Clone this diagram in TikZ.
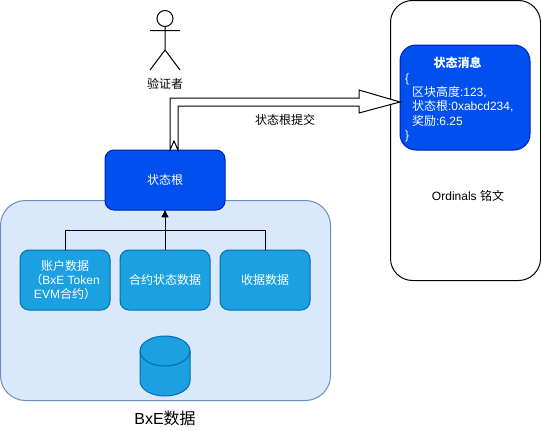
\documentclass[tikz,border=0pt]{standalone}
\usepackage{fontspec}
\setmainfont{Liberation Sans}
\newfontfamily\cjkf{Noto Sans CJK SC}
\newcommand{\zh}[1]{{\cjkf #1}}
\usetikzlibrary{arrows.meta,calc,shapes.geometric}
\definecolor{bigfill}{HTML}{DAE8FC}
\definecolor{bigline}{HTML}{6C8EBF}
\definecolor{rootfill}{HTML}{0050EF}
\definecolor{rootline}{HTML}{001DBC}
\definecolor{subfill}{HTML}{1BA1E2}
\definecolor{subline}{HTML}{006EAF}
\tikzset{
  x=1pt,y=-1pt,
  every node/.style={font=\fontsize{12}{14.4}\selectfont,inner sep=0pt,outer sep=0pt},
  every path/.style={line width=1pt},
  rootbox/.style={draw=rootline,fill=rootfill,text=white,rounded corners=9pt,minimum width=120pt,minimum height=60pt},
  subbox/.style={draw=subline,fill=subfill,text=white,rounded corners=9pt,minimum width=90pt,minimum height=60pt,align=center},
  feed/.style={draw=black,-{Latex[length=7pt,width=7pt]},rounded corners=0pt},
  plain/.style={text=black},
}
\begin{document}
\begin{tikzpicture}
\useasboundingbox (0,0) rectangle (541,431);
% containers
\node[draw=bigline,fill=bigfill,rounded corners=25pt,minimum width=330pt,minimum height=200pt] (data) at (165.5,300.5) {};
\node[draw=black,fill=white,rounded corners=22pt,minimum width=150pt,minimum height=280pt] (ord) at (465.5,140.5) {};
% boxes
\node[rootbox] (root) at (165,180) {\zh{状态根}};
\node[subbox] (acct) at (65,280) {\zh{账户数据}\\\zh{（}BxE Token\\EVM\zh{合约）}};
\node[subbox] (cont) at (165,280) {\zh{合约状态数据}};
\node[subbox] (rcpt) at (265,280) {\zh{收据数据}};
\node[draw=rootline,fill=rootfill,rounded corners=16pt,minimum width=130pt,minimum height=105pt] (msg) at (465,97.5) {};
\node[text=white,anchor=center] (msgtitle) at (457.5,63) {\bfseries\zh{状态消息}};
\node[text=white,anchor=north west,align=left] (msgbody) at (405,73.5) {\{\\\hspace*{7pt}\zh{区块高度}:123,\\\hspace*{7pt}\zh{状态根}:0xabcd234,\\\hspace*{7pt}\zh{奖励}:6.25\\\}};
\node[plain] (ordlabel) at (468,196) {Ordinals \zh{铭文}};
\node[plain] (datalabel) at (165,418) {\fontsize{16}{19}\selectfont BxE\zh{数据}};
% cylinder
\path[draw=subline,fill=subfill] (140,351) arc[start angle=180,end angle=360,x radius=25,y radius=15]
  -- (190,381) arc[start angle=0,end angle=180,x radius=25,y radius=15] -- cycle;
\draw[subline] (140,351) arc[start angle=180,end angle=0,x radius=25,y radius=15];
% actor
\draw (165,18.5) circle[radius=8];
\draw (165,26.5) -- (165,50) (150,30.5) -- (180,30.5) (150,70) -- (165,50) -- (180,70);
\node[plain] (actorlabel) at (165,84) {\zh{验证者}};
% connectors
\draw[feed] (acct.north) |- ($(root.south)+(0,20)$) -- (root.south);
\draw[feed] (cont.north) -- (root.south);
\draw[feed] (rcpt.north) |- ($(root.south)+(0,20)$) -- (root.south);
\node[plain] (sublabel) at (285,120) {\zh{状态根提交}};
% block arrow from root to message
\draw[fill=white,line join=miter]
  ($(root.north)+(5,0)$) -- ($(root.north)+(5,-52)$) -- ($(msg.west)+(-41,0.5)$) -- ($(msg.west)+(-41,-7.5)$)
  -- ($(msg.west)+(0,4.5)$) -- ($(msg.west)+(-41,15.5)$) -- ($(msg.west)+(-41,8.5)$)
  -- ($(root.north)+(13,-44)$) -- ($(root.north)+(13,0)$) -- ($(root.north)+(9,-9)$) -- cycle;
\end{tikzpicture}
\end{document}
